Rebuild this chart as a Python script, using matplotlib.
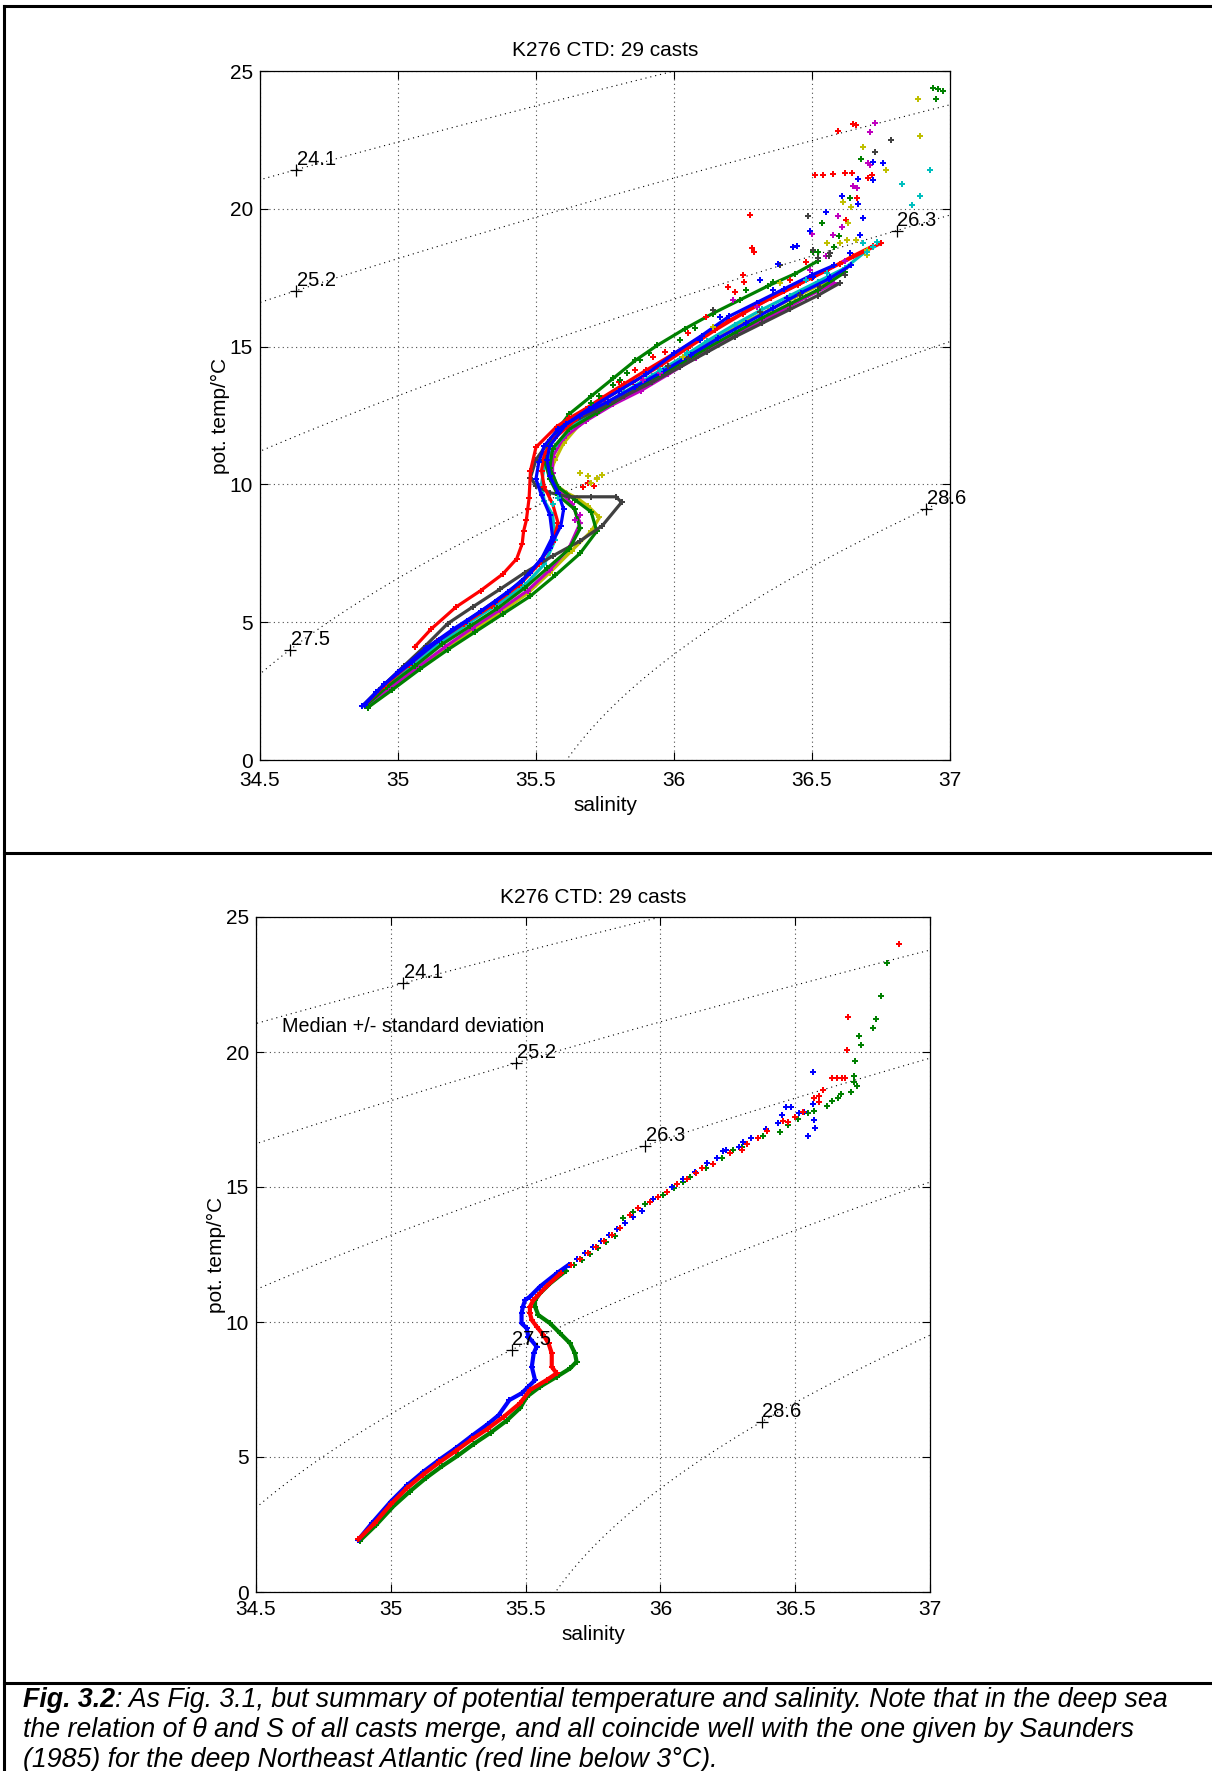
import numpy as np
import matplotlib.pyplot as plt

plt.rcParams['font.family'] = ['Liberation Sans', 'DejaVu Sans']

# Matlab-style line colours
BLUE = (0, 0, 1)
GREEN = (0, 0.5, 0)
RED = (1, 0, 0)
CYAN = (0, 0.75, 0.75)
MAGENTA = (0.75, 0, 0.75)
YELLOW = (0.75, 0.75, 0)
GREY = (0.25, 0.25, 0.25)

# sigma-theta isopycnals and their labels
sigma_levels = [24.1, 25.225, 26.35, 27.475, 28.6]
sigma_labels = ['24.1', '25.2', '26.3', '27.5', '28.6']
top_label_sal = [34.63, 34.63, 36.807, 34.608, 36.913]
bottom_label_sal = [35.047, 35.466, 35.944, 35.448, 36.375]

xticks = [34.5, 35, 35.5, 36, 36.5, 37]
xtick_labels = ['34.5', '35', '35.5', '36', '36.5', '37']
yticks = [0, 5, 10, 15, 20, 25]

# ---- upper panel: individual casts (salinity, pot. temperature) ----
cast_blue1_s = [34.87, 34.92, 35.00, 35.10, 35.20, 35.30, 35.40, 35.48, 35.55, 35.59, 35.60, 35.58, 35.55,
                35.54, 35.55, 35.61, 35.70, 35.80, 35.90, 36.00, 36.10, 36.20, 36.30, 36.40, 36.50, 36.58]
cast_blue1_t = [1.95, 2.45, 3.20, 4.05, 4.75, 5.40, 6.10, 6.80, 7.70, 8.50, 9.10, 9.70, 10.30,
                10.90, 11.40, 12.20, 12.80, 13.40, 14.00, 14.75, 15.40, 16.10, 16.60, 17.10, 17.60, 17.95]
cast_blue2_s = [34.88, 34.95, 35.05, 35.15, 35.25, 35.35, 35.45, 35.52, 35.56, 35.55, 35.52, 35.50, 35.51,
                35.53, 35.58, 35.66, 35.76, 35.86, 35.96, 36.06, 36.16, 36.26, 36.36, 36.46, 36.56, 36.64]
cast_blue2_t = [2.00, 2.75, 3.55, 4.35, 5.05, 5.75, 6.50, 7.30, 8.10, 8.90, 9.60, 10.20, 10.80,
                11.40, 12.00, 12.50, 13.00, 13.55, 14.10, 14.70, 15.30, 15.85, 16.40, 16.95, 17.45, 17.95]
cast_green1_s = [34.88, 34.96, 35.06, 35.16, 35.26, 35.36, 35.46, 35.54, 35.62, 35.66, 35.64, 35.58, 35.55,
                 35.53, 35.55, 35.62, 35.70, 35.78, 35.86, 35.94, 36.04, 36.14, 36.24, 36.34, 36.44, 36.52]
cast_green1_t = [1.95, 2.65, 3.40, 4.20, 4.85, 5.50, 6.25, 6.95, 7.65, 8.40, 9.10, 9.60, 10.20,
                 10.90, 11.60, 12.55, 13.20, 13.85, 14.50, 15.05, 15.65, 16.20, 16.70, 17.20, 17.65, 18.10]
cast_green2_s = [34.89, 34.98, 35.08, 35.18, 35.28, 35.38, 35.48, 35.57, 35.66, 35.72, 35.70, 35.64, 35.58,
                 35.55, 35.56, 35.62, 35.72, 35.82, 35.92, 36.02, 36.12, 36.22, 36.32, 36.42, 36.52, 36.62]
cast_green2_t = [1.90, 2.55, 3.30, 4.00, 4.65, 5.30, 5.95, 6.70, 7.50, 8.30, 9.00, 9.45, 9.90,
                 10.60, 11.30, 12.00, 12.60, 13.20, 13.80, 14.35, 14.95, 15.50, 16.05, 16.55, 17.05, 17.70]
cast_grey1_s = [34.87, 34.93, 35.02, 35.10, 35.18, 35.27, 35.37, 35.46, 35.56, 35.66, 35.74, 35.81, 35.79,
                35.70, 35.62, 35.55, 35.50, 35.48, 35.50, 35.55, 35.62, 35.72, 35.82, 35.92, 36.02, 36.12,
                36.22, 36.32, 36.42, 36.52, 36.60]
cast_grey1_t = [1.95, 2.55, 3.40, 4.15, 4.95, 5.55, 6.20, 6.80, 7.40, 7.95, 8.50, 9.35, 9.55,
                9.55, 9.55, 9.70, 9.95, 10.25, 10.90, 11.60, 12.20, 12.70, 13.20, 13.70, 14.25, 14.80,
                15.35, 15.85, 16.35, 16.85, 17.30]
cast_red1_s = [35.06, 35.12, 35.21, 35.30, 35.38, 35.43, 35.45, 35.455, 35.465, 35.47, 35.475, 35.48, 35.50,
               35.575, 35.62, 35.68, 35.74, 35.82, 35.90, 36.00, 36.10, 36.20, 36.30, 36.40, 36.50, 36.60,
               36.70, 36.75]
cast_red1_t = [4.10, 4.75, 5.55, 6.15, 6.75, 7.30, 7.85, 8.30, 8.70, 9.10, 9.50, 10.50, 11.35,
               12.10, 12.40, 12.75, 13.15, 13.65, 14.15, 14.75, 15.35, 15.95, 16.50, 17.00, 17.50, 18.00,
               18.50, 18.75]
cast_red2_s = [34.88, 34.95, 35.04, 35.14, 35.24, 35.34, 35.44, 35.51, 35.56, 35.58, 35.56, 35.53, 35.52,
               35.53, 35.57, 35.65, 35.75, 35.85, 35.95, 36.05, 36.15, 36.25, 36.35, 36.45, 36.55, 36.65, 36.72]
cast_red2_t = [2.00, 2.70, 3.45, 4.30, 4.95, 5.60, 6.35, 7.10, 7.90, 8.60, 9.30, 9.90, 10.50,
               11.10, 11.70, 12.40, 13.10, 13.70, 14.30, 14.95, 15.60, 16.20, 16.75, 17.25, 17.75, 18.30, 18.65]
cast_magenta1_s = [34.89, 34.97, 35.07, 35.17, 35.27, 35.37, 35.47, 35.55, 35.62, 35.66, 35.63, 35.58, 35.56,
                   35.56, 35.60, 35.68, 35.78, 35.88, 35.98, 36.08, 36.18, 36.28, 36.38, 36.48, 36.58]
cast_magenta1_t = [1.95, 2.60, 3.35, 4.10, 4.80, 5.45, 6.15, 6.90, 7.70, 8.60, 9.30, 9.80, 10.40,
                   11.00, 11.70, 12.30, 12.90, 13.40, 14.00, 14.60, 15.20, 15.75, 16.25, 16.80, 17.30]
cast_cyan1_s = [34.88, 34.96, 35.06, 35.16, 35.26, 35.36, 35.46, 35.53, 35.57, 35.56, 35.53, 35.52, 35.53,
                35.57, 35.63, 35.72, 35.82, 35.92, 36.02, 36.12, 36.22, 36.32, 36.42, 36.52, 36.62, 36.70]
cast_cyan1_t = [1.95, 2.70, 3.50, 4.30, 5.00, 5.65, 6.35, 7.10, 8.00, 8.90, 9.40, 10.00, 10.70,
                11.40, 12.10, 12.75, 13.35, 13.95, 14.55, 15.20, 15.80, 16.35, 16.85, 17.35, 17.85, 18.50]
cast_yellow1_s = [34.89, 34.97, 35.07, 35.17, 35.27, 35.37, 35.47, 35.55, 35.63, 35.70, 35.73, 35.69, 35.65,
                  35.61, 35.57, 35.55, 35.57, 35.60, 35.66, 35.74, 35.84, 35.94, 36.04, 36.14, 36.24, 36.34,
                  36.44, 36.54, 36.62]
cast_yellow1_t = [1.90, 2.55, 3.30, 4.05, 4.70, 5.35, 6.05, 6.80, 7.60, 8.30, 8.80, 9.20, 9.50,
                  9.70, 10.00, 10.40, 10.90, 11.50, 12.20, 12.80, 13.40, 14.00, 14.60, 15.20, 15.80, 16.30,
                  16.80, 17.30, 17.80]

# loose samples of the upper panel, mostly in the warm near-surface layer
top_red_s = [36.595, 36.65, 36.66, 36.511, 36.541, 36.575, 36.62, 36.644, 36.704, 36.716, 36.664, 36.622,
             36.275, 36.281, 36.29, 36.249, 36.254, 36.197, 36.221, 35.67, 35.69, 35.71,
             35.925, 35.967, 36.052, 36.116, 36.42, 36.48, 35.80, 35.86]
top_red_t = [22.82, 23.06, 23.04, 21.23, 21.23, 21.26, 21.29, 21.29, 21.13, 21.23, 20.38, 19.59,
             19.78, 18.57, 18.42, 17.60, 17.36, 17.17, 16.99, 9.90, 10.05, 9.95,
             14.63, 14.82, 15.48, 16.08, 17.42, 18.08, 13.70, 14.15]
top_magenta_s = [36.728, 36.71, 36.704, 36.71, 36.647, 36.664, 36.593, 36.607, 36.499, 36.55, 36.62,
                 36.215, 36.30, 36.493, 36.577, 35.889, 35.949, 35.64, 35.66]
top_magenta_t = [23.13, 22.77, 21.65, 21.59, 20.83, 20.77, 19.74, 19.35, 19.09, 18.30, 18.10,
                 16.69, 16.45, 17.78, 19.05, 13.79, 14.03, 8.70, 8.90]
top_yellow_s = [36.883, 36.893, 36.683, 36.768, 36.613, 36.641, 36.632, 35.72, 35.74, 35.70, 36.60, 36.66,
                36.70, 36.142, 36.384, 36.553, 36.626, 36.698, 36.034, 35.69, 35.72, 35.66]
top_yellow_t = [24.00, 22.64, 22.23, 21.39, 20.23, 20.08, 19.50, 10.25, 10.35, 10.05, 18.75, 18.85,
                18.50, 15.72, 17.30, 18.75, 18.87, 18.32, 14.63, 10.30, 10.20, 10.40]
top_green_s = [36.94, 36.958, 36.973, 36.95, 36.676, 36.638, 36.535, 36.598, 36.261, 36.52, 36.58,
               35.877, 35.911, 35.831, 35.804, 35.78, 36.022, 36.076, 36.36, 36.505, 35.73, 35.70]
top_green_t = [24.37, 24.35, 24.28, 23.97, 21.80, 20.38, 19.50, 19.01, 17.05, 18.45, 18.60,
               14.51, 14.76, 14.03, 13.79, 13.60, 15.24, 15.66, 17.36, 18.44, 13.20, 12.95]
top_grey_s = [36.788, 36.728, 36.487, 36.52, 36.56, 36.62, 36.142, 36.312, 36.457, 36.529, 36.505,
              36.565, 36.384, 35.98, 36.05]
top_grey_t = [22.50, 22.05, 19.74, 18.20, 18.30, 17.60, 16.33, 16.27, 16.87, 17.17, 18.50,
              18.38, 17.96, 14.30, 14.60]
top_blue_s = [36.722, 36.758, 36.668, 36.722, 36.607, 36.665, 36.55, 36.686, 36.493, 36.432, 36.444, 36.378,
              36.094, 36.167, 36.312, 36.36, 36.408, 36.505, 36.565, 36.638, 36.674]
top_blue_t = [21.71, 21.65, 21.09, 21.06, 20.48, 20.17, 19.87, 19.67, 19.20, 18.63, 18.65, 18.00,
              15.24, 16.08, 17.42, 17.05, 16.75, 17.54, 17.54, 18.38, 19.05]
top_cyan_s = [36.928, 36.825, 36.893, 36.864, 36.734, 36.72, 36.70, 36.046, 36.48, 36.553, 36.686, 35.949,
              35.56, 35.58]
top_cyan_t = [21.39, 20.89, 20.48, 20.14, 18.81, 18.60, 18.45, 14.76, 17.42, 17.66, 18.75, 14.15,
              9.30, 9.50]

# ---- lower panel: median and median +/- standard deviation ----
blue_deep_s = [34.879, 34.93, 35.00, 35.06, 35.12, 35.18, 35.24, 35.30, 35.36, 35.40, 35.44, 35.485, 35.51,
               35.535, 35.523, 35.53, 35.541, 35.51, 35.504, 35.485, 35.485, 35.49, 35.498, 35.516, 35.553,
               35.615, 35.66]
blue_deep_t = [1.93, 2.55, 3.35, 3.95, 4.45, 4.90, 5.32, 5.78, 6.22, 6.55, 7.11, 7.36, 7.60,
               7.85, 8.34, 8.84, 9.09, 9.46, 9.77, 9.95, 10.32, 10.57, 10.81, 10.94, 11.31,
               11.80, 12.12]
blue_up_s = [35.69, 35.72, 35.75, 35.78, 35.81, 35.84, 35.87, 35.90, 35.93, 35.974, 36.042, 36.085, 36.13,
             36.174, 36.209, 36.233, 36.243, 36.293, 36.308, 36.336, 36.392, 36.437, 36.452, 36.465, 36.483,
             36.514, 36.534, 36.566, 36.565, 36.571, 36.573, 36.546]
blue_up_t = [12.33, 12.55, 12.78, 13.00, 13.22, 13.45, 13.68, 13.90, 14.12, 14.54, 15.01, 15.28, 15.55,
             15.88, 16.06, 16.33, 16.37, 16.49, 16.68, 16.80, 17.14, 17.38, 17.67, 17.95, 17.97,
             17.75, 17.79, 18.06, 19.27, 17.48, 17.20, 16.89]
red_deep_s = [34.88, 34.94, 35.00, 35.06, 35.12, 35.18, 35.24, 35.30, 35.36, 35.42, 35.479, 35.516, 35.578,
              35.615, 35.597, 35.597, 35.585, 35.566, 35.541, 35.523, 35.516, 35.516, 35.529, 35.547, 35.58,
              35.63]
red_deep_t = [1.95, 2.55, 3.25, 3.85, 4.35, 4.80, 5.22, 5.65, 6.05, 6.50, 6.99, 7.48, 7.85,
              8.10, 8.34, 8.84, 9.21, 9.52, 9.83, 10.07, 10.32, 10.57, 10.81, 11.00, 11.35,
              11.80]
red_up_s = [35.67, 35.70, 35.73, 35.76, 35.79, 35.82, 35.85, 35.887, 35.918, 35.96, 35.992, 36.023, 36.063,
            36.10, 36.132, 36.153, 36.196, 36.258, 36.301, 36.320, 36.363, 36.394, 36.456, 36.474, 36.499,
            36.530, 36.570, 36.588, 36.588, 36.602, 36.638, 36.656, 36.672, 36.685, 36.693, 36.697, 36.886]
red_up_t = [12.12, 12.34, 12.56, 12.78, 13.00, 13.24, 13.48, 13.96, 14.21, 14.45, 14.64, 14.83, 15.11,
            15.30, 15.53, 15.69, 15.85, 16.27, 16.37, 16.59, 16.80, 17.09, 17.44, 17.42, 17.58,
            17.77, 18.29, 18.16, 18.37, 18.59, 19.03, 19.03, 19.03, 19.03, 20.07, 21.28, 23.99]
green_deep_s = [34.885, 34.945, 35.01, 35.07, 35.13, 35.19, 35.25, 35.31, 35.37, 35.43, 35.48, 35.504,
                35.553, 35.615, 35.665, 35.689, 35.683, 35.665, 35.628, 35.591, 35.547, 35.535, 35.535,
                35.553, 35.591, 35.65]
green_deep_t = [1.90, 2.48, 3.18, 3.72, 4.22, 4.66, 5.06, 5.50, 5.90, 6.35, 6.82, 7.23,
                7.60, 7.97, 8.28, 8.53, 8.84, 9.21, 9.58, 9.95, 10.26, 10.57, 10.81,
                11.06, 11.43, 11.90]
green_up_s = [35.68, 35.71, 35.74, 35.77, 35.80, 35.83, 35.862, 35.90, 35.943, 36.011, 36.05, 36.085,
              36.110, 36.17, 36.227, 36.271, 36.301, 36.382, 36.444, 36.474, 36.511, 36.546, 36.571, 36.617,
              36.638, 36.660, 36.670, 36.706, 36.719, 36.728, 36.719, 36.723, 36.744, 36.736, 36.790, 36.799,
              36.819, 36.839]
green_up_t = [12.10, 12.30, 12.52, 12.74, 12.96, 13.20, 13.86, 14.08, 14.36, 14.70, 14.95, 15.20,
              15.38, 15.72, 16.06, 16.37, 16.47, 16.89, 17.05, 17.30, 17.51, 17.73, 17.83, 18.01,
              18.20, 18.31, 18.43, 18.51, 18.88, 18.74, 19.12, 19.65, 20.26, 20.59, 20.88, 21.21,
              22.07, 23.28]


def sigma_theta(s, t):
    # UNESCO 1980 equation of state at the sea surface, minus 1000
    rho_w = (999.842594 + 6.793952e-2 * t - 9.095290e-3 * t**2 + 1.001685e-4 * t**3
             - 1.120083e-6 * t**4 + 6.536332e-9 * t**5)
    a = 8.24493e-1 - 4.0899e-3 * t + 7.6438e-5 * t**2 - 8.2467e-7 * t**3 + 5.3875e-9 * t**4
    b = -5.72466e-3 + 1.0227e-4 * t - 1.6546e-6 * t**2
    c = 4.8314e-4
    return rho_w + a * s + b * s**1.5 + c * s**2 - 1000.0


def temp_on_isopycnal(s, level):
    tt = np.linspace(-2, 30, 3201)
    sig = sigma_theta(s, tt)
    return np.interp(level, sig[::-1], tt[::-1])


def setup_axes(ax, label_sal, title_pad, xpad):
    sg, tg = np.meshgrid(np.linspace(34.4, 37.1, 300), np.linspace(-1, 26, 300))
    cs = ax.contour(sg, tg, sigma_theta(sg, tg), levels=sigma_levels, colors='k',
                    linewidths=0.8, zorder=1)
    cs.set_linestyle((0, (1, 3.5)))
    for lev, lab, s in zip(sigma_levels, sigma_labels, label_sal):
        t = temp_on_isopycnal(s, lev)
        ax.plot(s, t, marker='+', color='k', ms=8, mew=0.9, zorder=6)
        ax.annotate(lab, (s, t), xytext=(0.5, 3.5), textcoords='offset points',
                    fontsize=14.5, ha='left', va='baseline', zorder=6)
    ax.set_xlim(34.5, 37)
    ax.set_ylim(0, 25)
    ax.set_xticks(xticks)
    ax.set_xticklabels(xtick_labels)
    ax.set_yticks(yticks)
    ax.grid(True, color='0.3', linestyle=(0, (1, 3)), linewidth=0.8)
    ax.set_axisbelow(True)
    ax.tick_params(direction='in', length=6, width=0.8, top=True, right=True, labelsize=15)
    ax.tick_params(axis='x', pad=xpad)
    ax.tick_params(axis='y', pad=5)
    for sp in ax.spines.values():
        sp.set_linewidth(0.9)
    ax.set_title('K276 CTD: 29 casts', fontsize=15, pad=title_pad)
    ax.set_xlabel('salinity', fontsize=15, labelpad=4)
    ax.set_ylabel('pot. temp/°C', fontsize=15)


fig = plt.figure(figsize=(12.12, 17.71), dpi=100)
H = 1771.0
W = 1212.0

ax1 = fig.add_axes([260 / W, 1 - 760 / H, 690 / W, 689 / H])
ax2 = fig.add_axes([256 / W, 1 - 1592 / H, 674 / W, 675 / H])

setup_axes(ax1, top_label_sal, 10.5, 8)
setup_axes(ax2, bottom_label_sal, 10, 6)
ax1.yaxis.set_label_coords(-0.043, 0.5)
ax2.yaxis.set_label_coords(-0.045, 0.5)

# upper panel casts
casts = [
    (cast_yellow1_s, cast_yellow1_t, YELLOW),
    (cast_magenta1_s, cast_magenta1_t, MAGENTA),
    (cast_cyan1_s, cast_cyan1_t, CYAN),
    (cast_green2_s, cast_green2_t, GREEN),
    (cast_grey1_s, cast_grey1_t, GREY),
    (cast_green1_s, cast_green1_t, GREEN),
    (cast_red2_s, cast_red2_t, RED),
    (cast_red1_s, cast_red1_t, RED),
    (cast_blue2_s, cast_blue2_t, BLUE),
    (cast_blue1_s, cast_blue1_t, BLUE),
]
for s, t, c in casts:
    ax1.plot(s, t, color=c, lw=2.3, marker='P', ms=5, mew=0, zorder=3,
             solid_joinstyle='round', solid_capstyle='round')

loose = [
    (top_red_s, top_red_t, RED), (top_magenta_s, top_magenta_t, MAGENTA),
    (top_yellow_s, top_yellow_t, YELLOW), (top_green_s, top_green_t, GREEN),
    (top_grey_s, top_grey_t, GREY), (top_blue_s, top_blue_t, BLUE),
    (top_cyan_s, top_cyan_t, CYAN),
]
for s, t, c in loose:
    ax1.plot(s, t, linestyle='none', color=c, marker='P', ms=5, mew=0, zorder=4)

# lower panel statistics
for s, t, c in [(green_deep_s, green_deep_t, GREEN), (blue_deep_s, blue_deep_t, BLUE),
                (red_deep_s, red_deep_t, RED)]:
    ax2.plot(s, t, color=c, lw=3.0, marker='P', ms=4.5, mew=0, zorder=3,
             solid_joinstyle='round', solid_capstyle='round')
for s, t, c in [(green_up_s, green_up_t, GREEN), (blue_up_s, blue_up_t, BLUE),
                (red_up_s, red_up_t, RED)]:
    ax2.plot(s, t, linestyle='none', color=c, marker='P', ms=5, mew=0, zorder=3)

ax2.text(34.596, 20.96, 'Median +/- standard deviation', fontsize=14.2, ha='left', va='center')

# panel frame lines
frame = dict(color='k', lw=2.2, transform=fig.transFigure, clip_on=False)
fig.add_artist(plt.Line2D([4 / W, 1], [1 - 6 / H, 1 - 6 / H], **frame))
fig.add_artist(plt.Line2D([4 / W, 4 / W], [1 - 6 / H, 0], **frame))
fig.add_artist(plt.Line2D([4 / W, 1], [1 - 853 / H, 1 - 853 / H], **frame))
fig.add_artist(plt.Line2D([4 / W, 1], [1 - 1683 / H, 1 - 1683 / H], **frame))

# caption
cap_size = 19.3
cap_x = 23 / W
bold = fig.text(cap_x, 1 - 1707 / H, 'Fig. 3.2', fontsize=cap_size, fontstyle='italic',
                fontweight='bold', ha='left', va='baseline')
renderer = fig.canvas.get_renderer()
bb = bold.get_window_extent(renderer)
fig.text(bb.x1 / W, 1 - 1707 / H,
         ': As Fig. 3.1, but summary of potential temperature and salinity. Note that in the deep sea',
         fontsize=cap_size, fontstyle='italic', ha='left', va='baseline')
fig.text(cap_x, 1 - 1737 / H,
         'the relation of θ and S of all casts merge, and all coincide well with the one given by Saunders',
         fontsize=cap_size, fontstyle='italic', ha='left', va='baseline')
fig.text(cap_x, 1 - 1767 / H,
         '(1985) for the deep Northeast Atlantic (red line below 3°C).',
         fontsize=cap_size, fontstyle='italic', ha='left', va='baseline')

fig.savefig('out.png', dpi=100)
